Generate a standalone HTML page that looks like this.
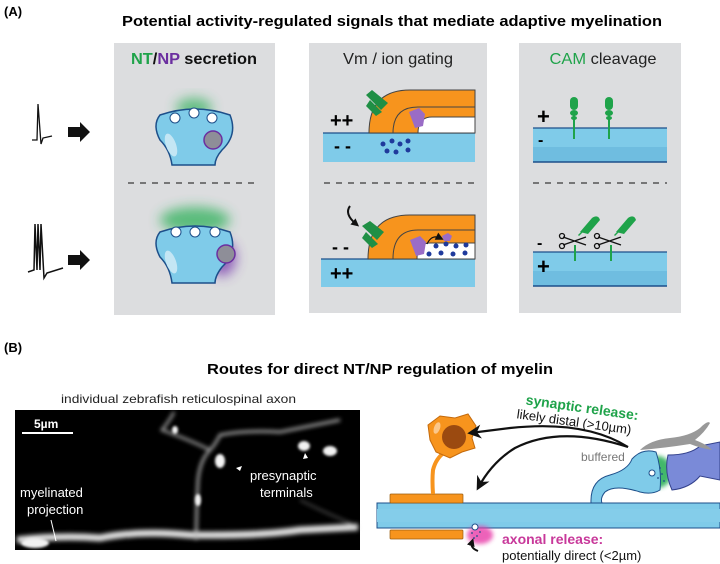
<!DOCTYPE html>
<html><head><meta charset="utf-8"><style>
html,body{margin:0;padding:0;background:#fff;}
svg{display:block;font-family:"Liberation Sans",sans-serif;}
</style></head><body>
<svg width="720" height="564" viewBox="0 0 720 564" xmlns="http://www.w3.org/2000/svg">
<defs>
<filter id="b6" x="-50%" y="-50%" width="200%" height="200%"><feGaussianBlur stdDeviation="6"/></filter>
<filter id="b2" x="-50%" y="-50%" width="200%" height="200%"><feGaussianBlur stdDeviation="2"/></filter>
<filter id="b1"><feGaussianBlur stdDeviation="1.2"/></filter>
<marker id="ah" markerWidth="8" markerHeight="8" refX="4" refY="4" orient="auto" markerUnits="userSpaceOnUse"><path d="M0,0 L8,4 L0,8 Z" fill="#111"/></marker>
<marker id="ahb" viewBox="0 0 10 10" markerWidth="14" markerHeight="14" refX="8" refY="5" orient="auto" markerUnits="userSpaceOnUse"><path d="M0,0 L10,5 L0,10 L3,5 Z" fill="#111"/></marker>
</defs>

<text x="4" y="16" font-size="13" font-weight="bold">(A)</text>
<text x="392" y="26" font-size="15" font-weight="bold" text-anchor="middle" textLength="540" lengthAdjust="spacingAndGlyphs">Potential activity-regulated signals that mediate adaptive myelination</text>

<rect x="114" y="43" width="161" height="272" fill="#dcdddf"/>
<rect x="309" y="43" width="178" height="270" fill="#dcdddf"/>
<rect x="519" y="43" width="162" height="270" fill="#dcdddf"/>

<text x="194" y="64" font-size="16" font-weight="bold" text-anchor="middle" textLength="126" lengthAdjust="spacingAndGlyphs"><tspan fill="#1fa34a">NT</tspan><tspan fill="#111">/</tspan><tspan fill="#6b2fa0">NP</tspan><tspan fill="#111"> secretion</tspan></text>
<text x="398" y="64" font-size="16" text-anchor="middle" fill="#222" textLength="110" lengthAdjust="spacingAndGlyphs">Vm / ion gating</text>
<text x="603" y="64" font-size="16" text-anchor="middle" fill="#222" textLength="107" lengthAdjust="spacingAndGlyphs"><tspan fill="#1fa34a">CAM</tspan> cleavage</text>

<line x1="128" y1="183" x2="258" y2="183" stroke="#555" stroke-width="1.5" stroke-dasharray="6,6"/>
<line x1="324" y1="183" x2="475" y2="183" stroke="#555" stroke-width="1.5" stroke-dasharray="6,6"/>
<line x1="533" y1="183" x2="667" y2="183" stroke="#555" stroke-width="1.5" stroke-dasharray="6,6"/>

<path d="M32,140 L37,140 L38,104 L41,144 L43,138 L52,136" fill="none" stroke="#111" stroke-width="1.3"/>
<path d="M68,127 h12 v-5 l10,10 -10,10 v-5 h-12z" fill="#111"/>
<path d="M28,272 L34,270 L35,224 L37,270 L38,224 L40,270 L41,224 L44,278 L47,273 L63,268" fill="none" stroke="#111" stroke-width="1.5"/>
<path d="M68,255 h12 v-5 l10,10 -10,10 v-5 h-12z" fill="#111"/>

<ellipse cx="194" cy="108" rx="18" ry="10" fill="#2eb15a" opacity="0.7" filter="url(#b6)"/>
<path d="M160,115 Q195,103 230,115 Q238,135 222,150 Q215,158 215,165 L172,165 Q170,150 160,140 Q152,125 160,115Z" fill="#7fcbe9" stroke="#1d4f8a" stroke-width="1.5"/>
<ellipse cx="171" cy="145" rx="5" ry="12" fill="#c4e6f4" transform="rotate(-20 171 145)"/>
<circle cx="175" cy="118" r="5" fill="#fff" stroke="#1d4f8a"/><circle cx="194" cy="113" r="5" fill="#fff" stroke="#1d4f8a"/><circle cx="212" cy="118" r="5" fill="#fff" stroke="#1d4f8a"/>
<circle cx="213" cy="140" r="9" fill="#8e8e98" stroke="#6b2fa0" stroke-width="1.5"/>
<ellipse cx="195" cy="220" rx="35" ry="13" fill="#2eb15a" opacity="0.75" filter="url(#b6)"/>
<ellipse cx="222" cy="258" rx="14" ry="18" fill="#7b3fb0" opacity="0.8" filter="url(#b6)"/>
<path d="M160,232 Q195,220 230,232 Q238,252 222,267 Q215,276 215,283 L172,283 Q170,267 160,257 Q152,242 160,232Z" fill="#7fcbe9" stroke="#1d4f8a" stroke-width="1.5"/>
<ellipse cx="171" cy="262" rx="5" ry="12" fill="#c4e6f4" transform="rotate(-20 171 262)"/>
<circle cx="176" cy="232" r="5" fill="#fff" stroke="#1d4f8a"/><circle cx="195" cy="232" r="5" fill="#fff" stroke="#1d4f8a"/><circle cx="215" cy="232" r="5" fill="#fff" stroke="#1d4f8a"/>
<circle cx="226" cy="254" r="9" fill="#8e8e98" stroke="#6b2fa0" stroke-width="1.5"/>

<rect x="323" y="133" width="152" height="29" fill="#7fcbe9"/>
<line x1="323" y1="133" x2="475" y2="133" stroke="#1d4f8a" stroke-width="1.2"/>
<path d="M369,133 Q369,90 410,90 L475,90 L475,133 Z" fill="#f7941d" stroke="#444" stroke-width="1"/>
<path d="M393,133 Q393,107 418,107 L475,107" fill="none" stroke="#444" stroke-width="1"/>
<path d="M418,133 Q418,117 432,117 L475,117 L475,133Z" fill="#fff" stroke="#444" stroke-width="1"/>
<path d="M366,95 L372,90 L388,103 L381,110 Z M370,100 L382,112 L376,116 L366,106Z" fill="#1f8f45"/>
<path d="M409,112 l10,-4 6,6 -2,12 -8,2 z" fill="#9a6cc6"/>
<text x="330" y="127" font-size="20" font-weight="bold">++</text>
<text x="334" y="152" font-size="18" font-weight="bold">- -</text>
<g fill="#1f3a9c"><circle cx="383" cy="144" r="2.5"/><circle cx="392" cy="141" r="2.5"/><circle cx="400" cy="144" r="2.5"/><circle cx="408" cy="141" r="2.5"/><circle cx="387" cy="151" r="2.5"/><circle cx="396" cy="152" r="2.5"/><circle cx="408" cy="150" r="2.5"/></g>
<rect x="321" y="259" width="154" height="28" fill="#7fcbe9"/>
<line x1="321" y1="259" x2="475" y2="259" stroke="#1d4f8a" stroke-width="1.2"/>
<path d="M368,259 Q368,215 410,215 L475,215 L475,259 Z" fill="#f7941d" stroke="#444" stroke-width="1"/>
<path d="M393,259 Q393,230 418,230 L475,230" fill="none" stroke="#444" stroke-width="1"/>
<path d="M417,259 Q417,243 430,243 L475,243 L475,259Z" fill="#fff" stroke="#444" stroke-width="1"/>
<path d="M362,226 L370,221 L384,232 L377,240 Z M366,232 L378,244 L372,248 L362,238Z" fill="#1f8f45"/>
<path d="M410,240 l10,-4 6,6 -2,12 -8,2 z" fill="#9a6cc6"/>
<path d="M442,236 l6,-3 4,3 -2,5 -6,0z" fill="#9a6cc6"/>
<path d="M427,244 Q432,234 440,238" fill="none" stroke="#111" stroke-width="1.2" marker-end="url(#ah)"/>
<path d="M350,206 Q344,214 356,224" fill="none" stroke="#111" stroke-width="2" marker-end="url(#ah)"/>
<text x="332" y="253" font-size="18" font-weight="bold">- -</text>
<text x="330" y="280" font-size="20" font-weight="bold">++</text>
<g fill="#1f3a9c"><circle cx="436" cy="246" r="2.5"/><circle cx="446" cy="244" r="2.5"/><circle cx="456" cy="246" r="2.5"/><circle cx="466" cy="245" r="2.5"/><circle cx="429" cy="254" r="2.5"/><circle cx="441" cy="253" r="2.5"/><circle cx="453" cy="254" r="2.5"/><circle cx="465" cy="253" r="2.5"/></g>

<rect x="533" y="128" width="134" height="34" fill="#7fcbe9"/>
<rect x="533" y="147" width="134" height="15" fill="#6fbde0"/>
<line x1="533" y1="128" x2="667" y2="128" stroke="#1d4f8a" stroke-width="1.2"/>
<line x1="533" y1="162" x2="667" y2="162" stroke="#1d4f8a" stroke-width="1.5"/>
<g fill="#1fa34a"><rect x="573" y="115" width="2" height="24"/><rect x="608" y="115" width="2" height="24"/>
<rect x="570" y="97" width="8" height="13" rx="4"/><ellipse cx="574" cy="113" rx="4" ry="3"/><ellipse cx="574" cy="118" rx="3" ry="2"/>
<rect x="605" y="97" width="8" height="13" rx="4"/><ellipse cx="609" cy="113" rx="4" ry="3"/><ellipse cx="609" cy="118" rx="3" ry="2"/></g>
<text x="537" y="124" font-size="22" font-weight="bold">+</text>
<text x="538" y="145" font-size="16" font-weight="bold">-</text>
<rect x="533" y="252" width="134" height="34" fill="#7fcbe9"/>
<rect x="533" y="271" width="134" height="15" fill="#6fbde0"/>
<line x1="533" y1="252" x2="667" y2="252" stroke="#1d4f8a" stroke-width="1.2"/>
<line x1="533" y1="286" x2="667" y2="286" stroke="#1d4f8a" stroke-width="1.5"/>
<g fill="#1fa34a"><rect x="574" y="245" width="2" height="16"/><rect x="610" y="245" width="2" height="16"/>
<path d="M580,232 L592,218 Q598,214 600,220 L588,234Z"/><path d="M578,235 l4,-4 1,1 -4,4z"/>
<path d="M616,232 L628,218 Q634,214 636,220 L624,234Z"/><path d="M614,235 l4,-4 1,1 -4,4z"/></g>
<g stroke="#111" stroke-width="1.3" fill="none"><path d="M563,237 L586,245 M563,245 L586,237"/><circle cx="562" cy="236" r="2.5"/><circle cx="562" cy="246" r="2.5"/>
<path d="M598,237 L621,245 M598,245 L621,237"/><circle cx="597" cy="236" r="2.5"/><circle cx="597" cy="246" r="2.5"/></g>
<text x="537" y="248" font-size="16" font-weight="bold">-</text>
<text x="537" y="274" font-size="22" font-weight="bold">+</text>

<text x="4" y="352" font-size="13" font-weight="bold">(B)</text>
<text x="380" y="374" font-size="15" font-weight="bold" text-anchor="middle" textLength="346" lengthAdjust="spacingAndGlyphs">Routes for direct NT/NP regulation of myelin</text>
<text x="61" y="403" font-size="12" fill="#222" textLength="235" lengthAdjust="spacingAndGlyphs">individual zebrafish reticulospinal axon</text>

<rect x="15" y="410" width="345" height="140" fill="#000"/>
<g filter="url(#b2)" fill="none" stroke="#ddd">
<path d="M17,540 Q60,535 100,538 Q140,530 190,535 Q260,536 300,530 Q340,528 358,527" stroke-width="7"/>
<path d="M196,540 L197,500 L198,480 Q200,460 210,450 Q215,445 220,435 Q245,430 280,432 L340,420" stroke-width="2.5" stroke="#bbb"/>
<path d="M210,450 Q190,440 162,430 Q170,420 174,412" stroke-width="2.5" stroke="#aaa"/>
<path d="M300,500 Q330,515 355,525" stroke-width="1.5" stroke="#666"/>
</g>
<g filter="url(#b1)" fill="#f2f2f2">
<ellipse cx="220" cy="461" rx="5" ry="7"/><ellipse cx="304" cy="446" rx="6" ry="5"/><ellipse cx="330" cy="451" rx="7" ry="5"/><ellipse cx="198" cy="500" rx="3" ry="6"/><ellipse cx="175" cy="430" rx="3" ry="4"/><ellipse cx="35" cy="543" rx="14" ry="5"/>
</g>
<line x1="22" y1="433" x2="73" y2="433" stroke="#fff" stroke-width="2"/>
<text x="34" y="428" font-size="12" font-weight="bold" fill="#fff">5µm</text>
<text x="20" y="497" font-size="13" fill="#fff">myelinated</text>
<text x="27" y="514" font-size="13" fill="#fff">projection</text>
<line x1="51" y1="520" x2="56" y2="541" stroke="#fff" stroke-width="1"/>
<text x="250" y="480" font-size="13" fill="#fff">presynaptic</text>
<text x="260" y="497" font-size="13" fill="#fff">terminals</text>
<path d="M236,468 l6,-2 -2,5z M303,459 l2,-6 3,5z" fill="#fff"/>

<rect x="377" y="503" width="343" height="25" fill="#7fcbe9" stroke="#1d4f8a" stroke-width="1"/>
<rect x="377" y="509" width="343" height="13" fill="#84cdea"/>
<ellipse cx="480" cy="535" rx="13" ry="9" fill="#e83aa8" opacity="0.8" filter="url(#b2)"/>
<rect x="390" y="494" width="73" height="9" rx="1" fill="#f7941d" stroke="#9a5c10" stroke-width="0.7"/>
<rect x="390" y="530" width="73" height="9" rx="1" fill="#f7941d" stroke="#9a5c10" stroke-width="0.7"/>
<path d="M433,494 Q432,480 433,470 Q436,458 445,452" fill="none" stroke="#f7941d" stroke-width="4"/>
<path d="M428,425 L440,416 L455,418 L468,414 L476,426 L472,438 L475,448 L462,452 L450,458 L436,452 L430,440Z" fill="#f7941d" stroke="#c46a0c" stroke-width="1"/>
<circle cx="454" cy="437" r="12" fill="#9b4a10"/>
<ellipse cx="437" cy="428" rx="3" ry="6" fill="#fbc78a" transform="rotate(20 437 428)"/>
<circle cx="475" cy="527" r="3" fill="#fff" stroke="#1d4f8a"/>
<g fill="#1d4f8a"><circle cx="472" cy="533" r="0.9"/><circle cx="477" cy="536" r="0.9"/><circle cx="480" cy="532" r="0.9"/><circle cx="474" cy="538" r="0.9"/></g>
<path d="M478,551 Q470,548 472,542" fill="none" stroke="#111" stroke-width="2" marker-end="url(#ah)"/>

<ellipse cx="658" cy="472" rx="14" ry="16" fill="#2eb15a" opacity="0.9" filter="url(#b2)"/>
<path d="M668,455 Q690,455 700,446 L720,442 L720,480 L700,476 Q690,488 672,490 Q664,472 668,455Z" fill="#7a8ad8" stroke="#33418c" stroke-width="1"/>
<path d="M591,503 Q590,480 610,475 Q628,470 632,459 Q642,448 656,452 Q662,470 660,490 Q652,495 640,492 Q615,484 605,492 Q600,498 602,503Z" fill="#7fcbe9" stroke="#1d4f8a" stroke-width="1"/>
<circle cx="652" cy="473" r="3" fill="#fff" stroke="#1d4f8a"/>
<g fill="#1d4f8a"><circle cx="660" cy="468" r="0.9"/><circle cx="662" cy="474" r="0.9"/><circle cx="658" cy="478" r="0.9"/><circle cx="664" cy="481" r="0.9"/></g>
<path d="M640,450 Q650,440 670,438 Q690,436 700,428 Q708,420 710,423 Q705,432 695,440 Q708,445 712,450 Q700,448 690,444 Q665,448 640,450Z" fill="#999"/>

<path d="M628,447 Q585,420 510,428 L470,433" fill="none" stroke="#111" stroke-width="2.2" marker-end="url(#ahb)"/>
<path d="M628,447 Q560,425 515,448 Q492,462 478,488" fill="none" stroke="#111" stroke-width="2.2" marker-end="url(#ahb)"/>

<g transform="rotate(8 580 410)">
<text x="525" y="412" font-size="14" font-weight="bold" fill="#1fa34a">synaptic release:</text>
<text x="518" y="427" font-size="13" fill="#111">likely distal (&gt;10µm)</text>
</g>
<text x="581" y="461" font-size="12" fill="#777">buffered</text>
<text x="502" y="544" font-size="14" font-weight="bold" fill="#c8389a">axonal release:</text>
<text x="502" y="560" font-size="13" fill="#111">potentially direct (&lt;2µm)</text>
</svg>
</body></html>
